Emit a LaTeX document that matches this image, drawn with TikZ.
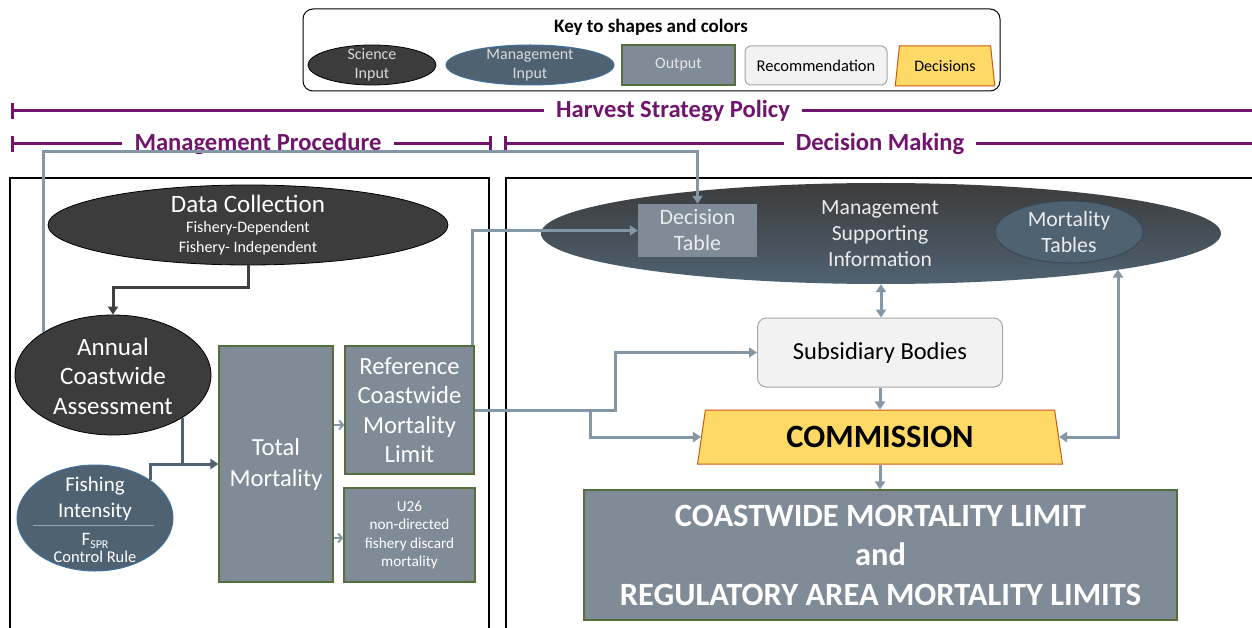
\documentclass[tikz,border=0pt]{standalone}
\usepackage{fontspec}
\setmainfont{Carlito}
\usetikzlibrary{shapes.geometric,arrows.meta,calc}
\definecolor{purp}{RGB}{112,20,110}
\definecolor{conn}{RGB}{132,151,166}
\definecolor{darkfill}{RGB}{60,60,60}
\definecolor{slate}{RGB}{79,98,114}
\definecolor{slateb}{RGB}{65,113,156}
\definecolor{outfill}{RGB}{127,139,150}
\definecolor{outborder}{RGB}{84,110,60}
\definecolor{recfill}{RGB}{242,242,242}
\definecolor{recborder}{RGB}{166,166,166}
\definecolor{decfill}{RGB}{255,217,102}
\definecolor{decborder}{RGB}{197,90,17}
\definecolor{darkarrow}{RGB}{64,64,64}
\newcommand{\fs}[2]{\fontsize{#1}{#2}\selectfont}
\begin{document}
\begin{tikzpicture}[x=1pt,y=-1pt,
  bar/.style={draw=purp,line width=3pt},
  barlbl/.style={text=purp,font=\bfseries\fs{24.6}{28},inner xsep=12pt,inner ysep=0pt},
  panel/.style={draw=black,line width=2pt},
  garr/.style={draw=conn,line width=3pt,-{Triangle[length=8pt,width=10pt]}},
  gdbl/.style={draw=conn,line width=3pt,{Triangle[length=8pt,width=10pt]}-{Triangle[length=8pt,width=10pt]}},
  chev/.style={draw=conn,line width=2pt,-{Straight Barb[length=4pt,width=9pt]}},
  darr/.style={draw=darkarrow,line width=3pt,-{Triangle[length=8pt,width=10pt]}},
  sarr/.style={draw=slate,line width=3pt,-{Triangle[length=8pt,width=10pt]}},
  sline/.style={draw=slate,line width=3pt},
  dkell/.style={ellipse,fill=darkfill,draw=black,line width=0.8pt,inner sep=0pt},
  slell/.style={ellipse,fill=slate,draw=slateb,line width=1pt,inner sep=0pt},
  outbox/.style={rectangle,fill=outfill,draw=outborder,line width=1.2pt,inner sep=0pt,text=white,align=center},
  wtext/.style={text=white,align=center,inner sep=0pt},
  ktext/.style={align=center,inner sep=0pt,font=\fs{16}{19}}
]
\useasboundingbox (0,0) rectangle (1252,628);
\fill[white] (0,0) rectangle (1252,628);

% ---------- key ----------
\node[draw=black,line width=1pt,rounded corners=10pt,minimum width=697,minimum height=82,inner sep=0pt] (key) at (651.5,50) {};
\node[font=\bfseries\fs{19}{22},inner sep=0pt] (keyt) at (651,27) {Key to shapes and colors};
\node[dkell,minimum width=128,minimum height=40] (ks) at (372,65) {};
\node[ktext,text=white!85!black] (kst) at (ks) {Science\\Input};
\node[slell,minimum width=168,minimum height=40] (km) at (530,65) {};
\node[ktext,text=white!85!black] (kmt) at (km) {Management\\Input};
\node[outbox,minimum width=113,minimum height=40,font=\fs{16}{18},text=white!90!black] (ko) at (678.5,65) {Output};
\node[rectangle,rounded corners=6pt,fill=recfill,draw=recborder,line width=1pt,minimum width=142,minimum height=39,inner sep=0pt,font=\fs{16.5}{18}] (kr) at (816,65.5) {Recommendation};
\node[trapezium,trapezium left angle=76,trapezium right angle=76,trapezium stretches=true,fill=decfill,draw=decborder,line width=1pt,minimum width=100,minimum height=40,inner sep=0pt,font=\fs{16}{18}] (kd) at (945,66) {Decisions};

% ---------- purple bars ----------
\node[barlbl] (hsp) at (673,111) {Harvest Strategy Policy};
\coordinate (hl) at (12,111); \coordinate (hr) at (1252,111);
\draw[bar] (hl) -- (hsp.west); \draw[bar] (hsp.east) -- (hr);
\draw[bar] ($(hl)+(0,-8)$) -- ($(hl)+(0,8)$);

\node[barlbl] (mp) at (258,144) {Management Procedure};
\coordinate (ml) at (12,144); \coordinate (mr) at (490,144);
\draw[bar] (ml) -- (mp.west); \draw[bar] (mp.east) -- (mr);
\draw[bar] ($(ml)+(0,-8)$) -- ($(ml)+(0,8)$);
\draw[bar] ($(mr)+(0,-8)$) -- ($(mr)+(0,8)$);

\node[barlbl] (dm) at (880,144) {Decision Making};
\coordinate (dl) at (505,144); \coordinate (dr) at (1252,144);
\draw[bar] (dl) -- (dm.west); \draw[bar] (dm.east) -- (dr);
\draw[bar] ($(dl)+(0,-8)$) -- ($(dl)+(0,8)$);

% ---------- panels ----------
\draw[panel] (10,178) rectangle (489,640);
\draw[panel] (506,178) rectangle (1262,640);

% ---------- left panel ----------
\node[dkell,minimum width=400,minimum height=80] (dc) at (248,225) {};
\node[wtext,font=\fs{25}{28}] (dct) at (248,204) {Data Collection};
\node[wtext,font=\fs{16}{20}] (dcs) at (248,238) {Fishery-Dependent\\Fishery- Independent};

\node[dkell,minimum width=196,minimum height=120] (ann) at (113,375) {};
\node[wtext,font=\fs{25}{29.5}] (annt) at (113,376) {Annual\\Coastwide\\Assessment};

\node[slell,minimum width=156,minimum height=106] (fi) at (95,518) {};
\node[wtext,font=\fs{21}{26}] (fit) at (95,499) {Fishing\\Intensity};
\draw[draw=slateb!60!white,line width=1pt] ($(fi.center)+(-62,7)$) -- ($(fi.center)+(59,7)$);
\node[wtext,font=\fs{19}{19}] (fit2) at (95,541) {F\raisebox{-3pt}{\fs{12}{12}SPR}};
\node[wtext,font=\fs{16.5}{18}] (fit3) at (95,557) {Control Rule};

\node[outbox,minimum width=114,minimum height=236,font=\fs{24.6}{31}] (tm) at (276,464) {Total\\Mortality};
\node[outbox,minimum width=129,minimum height=128,font=\fs{24.6}{29.5}] (ref) at (409.5,410) {Reference\\Coastwide\\Mortality\\Limit};
\node[outbox,minimum width=131,minimum height=94,font=\fs{15.2}{18.5}] (u26) at (409.5,535) {U26\\non-directed\\fishery discard\\mortality};

\coordinate (y425) at (0,425);
\coordinate (y538) at (0,538);
\draw[chev] (tm.east |- y425) -- (ref.west |- y425);
\draw[chev] (tm.east |- y538) -- (u26.west |- y538);

\draw[darr] (dc.south) -- ++(0,22) -| (ann.north);
\draw[sline] (ann.south east) -- (ann.south east |- tm.west);
\draw[sarr] (fi.north east) |- (tm.west);

% ---------- right panel ----------
\node[ellipse,top color=darkfill,bottom color=slate,draw=none,minimum width=680,minimum height=101,inner sep=0pt] (msi) at (881,233.5) {};
\node[rectangle,fill=outfill,minimum width=119,minimum height=53,inner sep=0pt,text=white!92!black,align=center,font=\fs{22}{26}] (dt) at (697.5,230.5) {Decision\\Table};
\node[wtext,font=\fs{21.6}{26},text=white!92!black] (msit) at (880,234) {Management\\Supporting\\Information};
\node[ellipse,fill=slate,draw=slate!70!black,line width=0.8pt,minimum width=148,minimum height=62,inner sep=0pt] (mt) at (1069,232) {};
\node[wtext,font=\fs{21.8}{26},text=white!92!black] (mtt) at (mt) {Mortality\\Tables};

\node[rectangle,rounded corners=9pt,fill=recfill,draw=recborder,line width=1pt,minimum width=245,minimum height=69,inner sep=0pt,font=\fs{24.5}{28}] (sub) at (880,352.5) {Subsidiary Bodies};

\node[trapezium,trapezium left angle=79,trapezium right angle=79,trapezium stretches=true,fill=decfill,draw=decborder,line width=1pt,minimum width=365,minimum height=54,inner sep=0pt,font=\bfseries\fs{32.5}{34}] (com) at (880,437) {COMMISSION};

\node[outbox,minimum width=593,minimum height=130,font=\bfseries\fs{32.5}{39.5}] (fin) at (880.5,555) {COASTWIDE MORTALITY LIMIT\\and\\REGULATORY AREA MORTALITY LIMITS};

\draw[gdbl] (msi.south) -- (msi.south |- sub.north);
\draw[garr] (sub.south) -- (sub.south |- com.north);
\draw[garr] (com.south) -- (com.south |- fin.north);
\draw[gdbl] (com.east) -| ($(msi.center)+(237,36)$);

% ---------- cross connectors ----------
\coordinate (topy) at (0,152);
\draw[garr] (ann.north west) |- (dt.north |- topy) -- (dt.north);
\draw[garr] ([xshift=-2pt]ref.north east) |- (dt.west);
\coordinate (stepx) at (615,0);
\draw[garr] (ref.east) -- (stepx |- ref.east) |- (sub.west);
\coordinate (brx) at (590,0);
\draw[garr] (brx |- ref.east) |- (com.west);
\end{tikzpicture}
\end{document}
